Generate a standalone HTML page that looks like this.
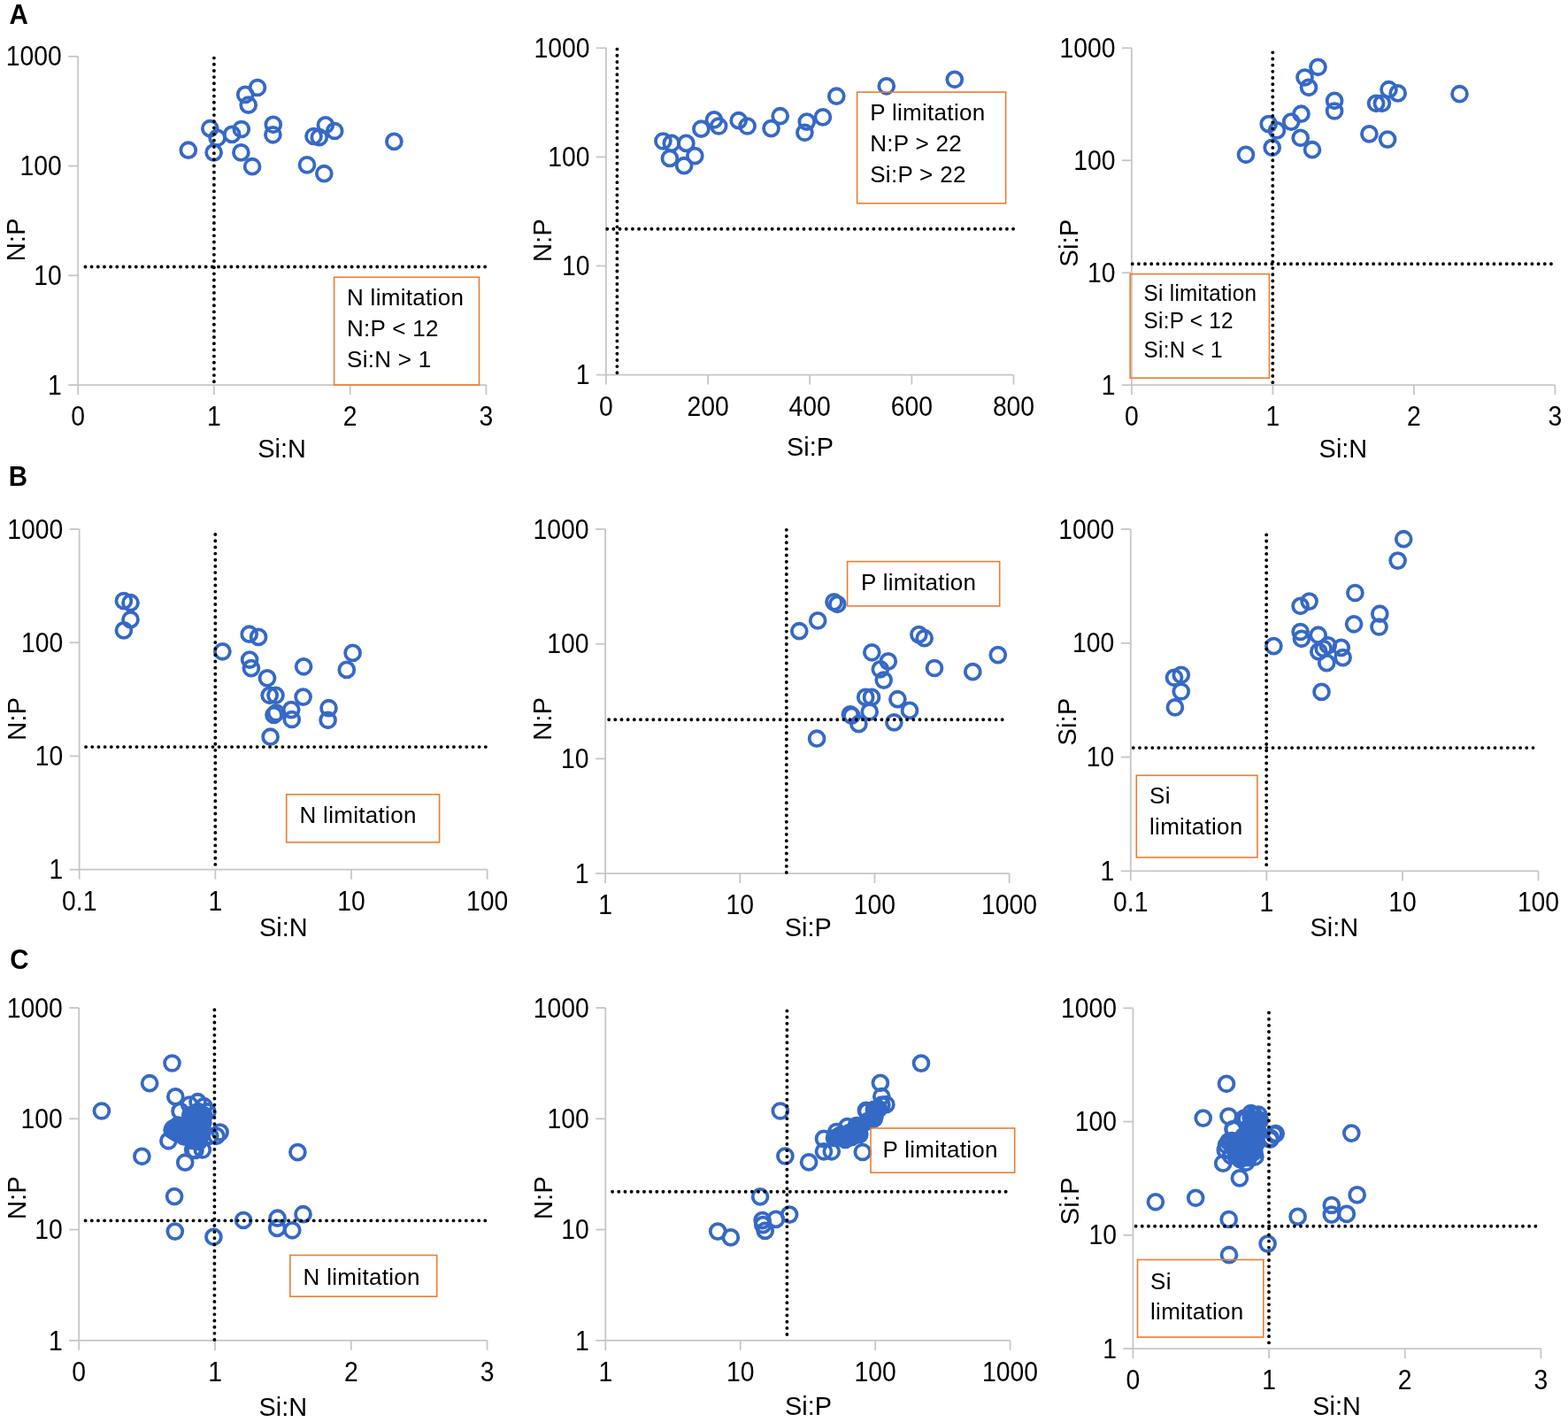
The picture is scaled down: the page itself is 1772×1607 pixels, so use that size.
<!DOCTYPE html>
<html><head><meta charset="utf-8"><title>Nutrient limitation scatter plots</title>
<style>
html,body{margin:0;padding:0;background:#fff;}
svg{display:block;}
.t{font-family:"Liberation Sans",Arial,sans-serif;font-size:29.5px;fill:#000;}
.b{font-family:"Liberation Sans",Arial,sans-serif;font-size:26px;fill:#000;letter-spacing:0.3px;}
.L{font-family:"Liberation Sans",Arial,sans-serif;font-size:29.5px;font-weight:bold;fill:#000;}
.d{stroke:#000;stroke-width:3.9;stroke-linecap:round;stroke-dasharray:0 7.17;}
</style></head><body>
<svg width="1772" height="1607" viewBox="0 0 1772 1607">
<rect width="1772" height="1607" fill="#fff"/>
<line x1="88.2" y1="63.8" x2="88.2" y2="435.1" stroke="#c6c6c6" stroke-width="1.8"/>
<line x1="88.2" y1="435.1" x2="549.4" y2="435.1" stroke="#c6c6c6" stroke-width="1.8"/>
<line x1="77.2" y1="63.8" x2="88.2" y2="63.8" stroke="#c6c6c6" stroke-width="1.8"/>
<text transform="translate(69.7,74.4) scale(0.96,1.04)" text-anchor="end" class="t">1000</text>
<line x1="77.2" y1="187.57" x2="88.2" y2="187.57" stroke="#c6c6c6" stroke-width="1.8"/>
<text transform="translate(69.7,198.17) scale(0.96,1.04)" text-anchor="end" class="t">100</text>
<line x1="77.2" y1="311.33" x2="88.2" y2="311.33" stroke="#c6c6c6" stroke-width="1.8"/>
<text transform="translate(69.7,321.93) scale(0.96,1.04)" text-anchor="end" class="t">10</text>
<line x1="77.2" y1="435.1" x2="88.2" y2="435.1" stroke="#c6c6c6" stroke-width="1.8"/>
<text transform="translate(69.7,445.7) scale(0.96,1.04)" text-anchor="end" class="t">1</text>
<line x1="88.2" y1="435.1" x2="88.2" y2="446.1" stroke="#c6c6c6" stroke-width="1.8"/>
<text transform="translate(88.2,481.1) scale(0.96,1.04)" text-anchor="middle" class="t">0</text>
<line x1="241.93" y1="435.1" x2="241.93" y2="446.1" stroke="#c6c6c6" stroke-width="1.8"/>
<text transform="translate(241.93,481.1) scale(0.96,1.04)" text-anchor="middle" class="t">1</text>
<line x1="395.67" y1="435.1" x2="395.67" y2="446.1" stroke="#c6c6c6" stroke-width="1.8"/>
<text transform="translate(395.67,481.1) scale(0.96,1.04)" text-anchor="middle" class="t">2</text>
<line x1="549.4" y1="435.1" x2="549.4" y2="446.1" stroke="#c6c6c6" stroke-width="1.8"/>
<text transform="translate(549.4,481.1) scale(0.96,1.04)" text-anchor="middle" class="t">3</text>
<text transform="translate(318.6,516.6) scale(0.98,1.03)" text-anchor="middle" class="t">Si:N</text>
<text transform="translate(27.5,271) rotate(-90) scale(1.0,1.03)" text-anchor="middle" class="t">N:P</text>
<g fill="none" stroke="#3569c6" stroke-width="3.8">
<circle cx="212.8" cy="169.7" r="8.45"/>
<circle cx="237.3" cy="145.2" r="8.45"/>
<circle cx="241.6" cy="172.4" r="8.45"/>
<circle cx="245.6" cy="155.8" r="8.45"/>
<circle cx="262.2" cy="151.9" r="8.45"/>
<circle cx="272.8" cy="146" r="8.45"/>
<circle cx="277.2" cy="106.9" r="8.45"/>
<circle cx="280.7" cy="118.7" r="8.45"/>
<circle cx="291" cy="99" r="8.45"/>
<circle cx="272.4" cy="172.4" r="8.45"/>
<circle cx="285.1" cy="188.2" r="8.45"/>
<circle cx="308.8" cy="140.8" r="8.45"/>
<circle cx="308.4" cy="152.3" r="8.45"/>
<circle cx="354.5" cy="154" r="8.45"/>
<circle cx="360.8" cy="155.2" r="8.45"/>
<circle cx="367.9" cy="141.3" r="8.45"/>
<circle cx="378.2" cy="148" r="8.45"/>
<circle cx="445.4" cy="159.9" r="8.45"/>
<circle cx="347" cy="186.4" r="8.45"/>
<circle cx="366.3" cy="196.2" r="8.45"/>
</g>
<line x1="241.9" y1="63.8" x2="241.9" y2="435.1" class="d" stroke-dashoffset="5.38"/>
<line x1="95" y1="301.5" x2="549.4" y2="301.5" class="d" stroke-dashoffset="5.73"/>
<rect x="377.6" y="313.3" width="163.9" height="121.7" fill="none" stroke="#ed7d31" stroke-width="1.6"/>
<text x="392" y="345.1" class="b">N limitation</text>
<text x="392" y="380.2" class="b">N:P &lt; 12</text>
<text x="392" y="414.7" class="b">Si:N &gt; 1</text>
<line x1="684.9" y1="54.3" x2="684.9" y2="423.6" stroke="#c6c6c6" stroke-width="1.8"/>
<line x1="684.9" y1="423.6" x2="1145.5" y2="423.6" stroke="#c6c6c6" stroke-width="1.8"/>
<line x1="673.9" y1="54.3" x2="684.9" y2="54.3" stroke="#c6c6c6" stroke-width="1.8"/>
<text transform="translate(666.4,64.9) scale(0.96,1.04)" text-anchor="end" class="t">1000</text>
<line x1="673.9" y1="177.4" x2="684.9" y2="177.4" stroke="#c6c6c6" stroke-width="1.8"/>
<text transform="translate(666.4,188) scale(0.96,1.04)" text-anchor="end" class="t">100</text>
<line x1="673.9" y1="300.5" x2="684.9" y2="300.5" stroke="#c6c6c6" stroke-width="1.8"/>
<text transform="translate(666.4,311.1) scale(0.96,1.04)" text-anchor="end" class="t">10</text>
<line x1="673.9" y1="423.6" x2="684.9" y2="423.6" stroke="#c6c6c6" stroke-width="1.8"/>
<text transform="translate(666.4,434.2) scale(0.96,1.04)" text-anchor="end" class="t">1</text>
<line x1="684.9" y1="423.6" x2="684.9" y2="434.6" stroke="#c6c6c6" stroke-width="1.8"/>
<text transform="translate(684.9,469.6) scale(0.96,1.04)" text-anchor="middle" class="t">0</text>
<line x1="800.05" y1="423.6" x2="800.05" y2="434.6" stroke="#c6c6c6" stroke-width="1.8"/>
<text transform="translate(800.05,469.6) scale(0.96,1.04)" text-anchor="middle" class="t">200</text>
<line x1="915.2" y1="423.6" x2="915.2" y2="434.6" stroke="#c6c6c6" stroke-width="1.8"/>
<text transform="translate(915.2,469.6) scale(0.96,1.04)" text-anchor="middle" class="t">400</text>
<line x1="1030.35" y1="423.6" x2="1030.35" y2="434.6" stroke="#c6c6c6" stroke-width="1.8"/>
<text transform="translate(1030.35,469.6) scale(0.96,1.04)" text-anchor="middle" class="t">600</text>
<line x1="1145.5" y1="423.6" x2="1145.5" y2="434.6" stroke="#c6c6c6" stroke-width="1.8"/>
<text transform="translate(1145.5,469.6) scale(0.96,1.04)" text-anchor="middle" class="t">800</text>
<text transform="translate(915.5,514.5) scale(0.98,1.03)" text-anchor="middle" class="t">Si:P</text>
<text transform="translate(623.1,271.6) rotate(-90) scale(1.0,1.03)" text-anchor="middle" class="t">N:P</text>
<g fill="none" stroke="#3569c6" stroke-width="3.8">
<circle cx="749.4" cy="159.5" r="8.45"/>
<circle cx="758.8" cy="161.9" r="8.45"/>
<circle cx="775.4" cy="161.9" r="8.45"/>
<circle cx="756.9" cy="178.9" r="8.45"/>
<circle cx="773.1" cy="187.2" r="8.45"/>
<circle cx="785.3" cy="176.1" r="8.45"/>
<circle cx="792.4" cy="145.7" r="8.45"/>
<circle cx="807" cy="135.4" r="8.45"/>
<circle cx="812.2" cy="142.5" r="8.45"/>
<circle cx="834.7" cy="136.2" r="8.45"/>
<circle cx="844.6" cy="142.5" r="8.45"/>
<circle cx="871.5" cy="145.1" r="8.45"/>
<circle cx="881.7" cy="131.2" r="8.45"/>
<circle cx="911.8" cy="137.6" r="8.45"/>
<circle cx="909.4" cy="149.8" r="8.45"/>
<circle cx="929.9" cy="132.4" r="8.45"/>
<circle cx="945.3" cy="108.7" r="8.45"/>
<circle cx="1001.8" cy="97.3" r="8.45"/>
<circle cx="1078.8" cy="89.8" r="8.45"/>
</g>
<line x1="697.4" y1="54.3" x2="697.4" y2="423.6" class="d" stroke-dashoffset="5.87"/>
<line x1="684.9" y1="258.7" x2="1146.8" y2="258.7" class="d" stroke-dashoffset="5.87"/>
<rect x="968.6" y="104.1" width="168" height="125.7" fill="none" stroke="#ed7d31" stroke-width="1.6"/>
<text x="983.2" y="135.9" class="b">P limitation</text>
<text x="983.2" y="170.7" class="b">N:P &gt; 22</text>
<text x="983.2" y="205.5" class="b">Si:P &gt; 22</text>
<line x1="1278.9" y1="54.3" x2="1278.9" y2="435.2" stroke="#c6c6c6" stroke-width="1.8"/>
<line x1="1278.9" y1="435.2" x2="1757.4" y2="435.2" stroke="#c6c6c6" stroke-width="1.8"/>
<line x1="1267.9" y1="54.3" x2="1278.9" y2="54.3" stroke="#c6c6c6" stroke-width="1.8"/>
<text transform="translate(1260.4,64.9) scale(0.96,1.04)" text-anchor="end" class="t">1000</text>
<line x1="1267.9" y1="181.27" x2="1278.9" y2="181.27" stroke="#c6c6c6" stroke-width="1.8"/>
<text transform="translate(1260.4,191.87) scale(0.96,1.04)" text-anchor="end" class="t">100</text>
<line x1="1267.9" y1="308.23" x2="1278.9" y2="308.23" stroke="#c6c6c6" stroke-width="1.8"/>
<text transform="translate(1260.4,318.83) scale(0.96,1.04)" text-anchor="end" class="t">10</text>
<line x1="1267.9" y1="435.2" x2="1278.9" y2="435.2" stroke="#c6c6c6" stroke-width="1.8"/>
<text transform="translate(1260.4,445.8) scale(0.96,1.04)" text-anchor="end" class="t">1</text>
<line x1="1278.9" y1="435.2" x2="1278.9" y2="446.2" stroke="#c6c6c6" stroke-width="1.8"/>
<text transform="translate(1278.9,481.2) scale(0.96,1.04)" text-anchor="middle" class="t">0</text>
<line x1="1438.4" y1="435.2" x2="1438.4" y2="446.2" stroke="#c6c6c6" stroke-width="1.8"/>
<text transform="translate(1438.4,481.2) scale(0.96,1.04)" text-anchor="middle" class="t">1</text>
<line x1="1597.9" y1="435.2" x2="1597.9" y2="446.2" stroke="#c6c6c6" stroke-width="1.8"/>
<text transform="translate(1597.9,481.2) scale(0.96,1.04)" text-anchor="middle" class="t">2</text>
<line x1="1757.4" y1="435.2" x2="1757.4" y2="446.2" stroke="#c6c6c6" stroke-width="1.8"/>
<text transform="translate(1757.4,481.2) scale(0.96,1.04)" text-anchor="middle" class="t">3</text>
<text transform="translate(1517.9,516.7) scale(0.98,1.03)" text-anchor="middle" class="t">Si:N</text>
<text transform="translate(1218.1,274.7) rotate(-90) scale(1.0,1.03)" text-anchor="middle" class="t">Si:P</text>
<g fill="none" stroke="#3569c6" stroke-width="3.8">
<circle cx="1408" cy="174.8" r="8.45"/>
<circle cx="1433.7" cy="140.1" r="8.45"/>
<circle cx="1437.7" cy="166.8" r="8.45"/>
<circle cx="1443" cy="147.4" r="8.45"/>
<circle cx="1459.2" cy="137.6" r="8.45"/>
<circle cx="1470.5" cy="128.7" r="8.45"/>
<circle cx="1474.5" cy="87.5" r="8.45"/>
<circle cx="1479" cy="98.8" r="8.45"/>
<circle cx="1489.5" cy="75.8" r="8.45"/>
<circle cx="1469.7" cy="155.8" r="8.45"/>
<circle cx="1483" cy="169.2" r="8.45"/>
<circle cx="1508.1" cy="113.8" r="8.45"/>
<circle cx="1508.1" cy="125.5" r="8.45"/>
<circle cx="1555.1" cy="116.8" r="8.45"/>
<circle cx="1561.9" cy="116.8" r="8.45"/>
<circle cx="1569.5" cy="101.2" r="8.45"/>
<circle cx="1579.7" cy="105.4" r="8.45"/>
<circle cx="1649.5" cy="106.2" r="8.45"/>
<circle cx="1547.4" cy="151.4" r="8.45"/>
<circle cx="1568.1" cy="157.6" r="8.45"/>
</g>
<line x1="1438.3" y1="58.3" x2="1438.3" y2="435.2" class="d" stroke-dashoffset="6.14"/>
<line x1="1278.6" y1="298.2" x2="1757.4" y2="298.2" class="d" stroke-dashoffset="6.06"/>
<rect x="1277.2" y="309.7" width="157.2" height="117.5" fill="none" stroke="#ed7d31" stroke-width="1.6"/>
<text transform="translate(1292.5,339.7) scale(0.935,1)" class="b">Si limitation</text>
<text transform="translate(1292.5,371.3) scale(0.935,1)" class="b">Si:P &lt; 12</text>
<text transform="translate(1292.5,403.6) scale(0.935,1)" class="b">Si:N &lt; 1</text>
<line x1="89.7" y1="598" x2="89.7" y2="982.7" stroke="#c6c6c6" stroke-width="1.8"/>
<line x1="89.7" y1="982.7" x2="550.7" y2="982.7" stroke="#c6c6c6" stroke-width="1.8"/>
<line x1="78.7" y1="598" x2="89.7" y2="598" stroke="#c6c6c6" stroke-width="1.8"/>
<text transform="translate(71.2,608.6) scale(0.96,1.04)" text-anchor="end" class="t">1000</text>
<line x1="78.7" y1="726.23" x2="89.7" y2="726.23" stroke="#c6c6c6" stroke-width="1.8"/>
<text transform="translate(71.2,736.83) scale(0.96,1.04)" text-anchor="end" class="t">100</text>
<line x1="78.7" y1="854.47" x2="89.7" y2="854.47" stroke="#c6c6c6" stroke-width="1.8"/>
<text transform="translate(71.2,865.07) scale(0.96,1.04)" text-anchor="end" class="t">10</text>
<line x1="78.7" y1="982.7" x2="89.7" y2="982.7" stroke="#c6c6c6" stroke-width="1.8"/>
<text transform="translate(71.2,993.3) scale(0.96,1.04)" text-anchor="end" class="t">1</text>
<line x1="89.7" y1="982.7" x2="89.7" y2="993.7" stroke="#c6c6c6" stroke-width="1.8"/>
<text transform="translate(89.7,1028.7) scale(0.96,1.04)" text-anchor="middle" class="t">0.1</text>
<line x1="243.37" y1="982.7" x2="243.37" y2="993.7" stroke="#c6c6c6" stroke-width="1.8"/>
<text transform="translate(243.37,1028.7) scale(0.96,1.04)" text-anchor="middle" class="t">1</text>
<line x1="397.03" y1="982.7" x2="397.03" y2="993.7" stroke="#c6c6c6" stroke-width="1.8"/>
<text transform="translate(397.03,1028.7) scale(0.96,1.04)" text-anchor="middle" class="t">10</text>
<line x1="550.7" y1="982.7" x2="550.7" y2="993.7" stroke="#c6c6c6" stroke-width="1.8"/>
<text transform="translate(550.7,1028.7) scale(0.96,1.04)" text-anchor="middle" class="t">100</text>
<text transform="translate(320.3,1057.9) scale(0.98,1.03)" text-anchor="middle" class="t">Si:N</text>
<text transform="translate(28.8,812.5) rotate(-90) scale(1.0,1.03)" text-anchor="middle" class="t">N:P</text>
<g fill="none" stroke="#3569c6" stroke-width="3.8">
<circle cx="139.9" cy="679" r="8.45"/>
<circle cx="147.5" cy="681.2" r="8.45"/>
<circle cx="147.5" cy="700.2" r="8.45"/>
<circle cx="139.9" cy="712.4" r="8.45"/>
<circle cx="251.4" cy="736.3" r="8.45"/>
<circle cx="281.7" cy="716.7" r="8.45"/>
<circle cx="292.1" cy="719.9" r="8.45"/>
<circle cx="282.1" cy="745.6" r="8.45"/>
<circle cx="283.9" cy="755.1" r="8.45"/>
<circle cx="302" cy="766.4" r="8.45"/>
<circle cx="304.7" cy="785.8" r="8.45"/>
<circle cx="311.5" cy="785.8" r="8.45"/>
<circle cx="312" cy="805.5" r="8.45"/>
<circle cx="309.5" cy="808" r="8.45"/>
<circle cx="329.2" cy="802.1" r="8.45"/>
<circle cx="329.8" cy="813" r="8.45"/>
<circle cx="343.1" cy="753.3" r="8.45"/>
<circle cx="342.6" cy="787.6" r="8.45"/>
<circle cx="371.5" cy="800.2" r="8.45"/>
<circle cx="370.6" cy="813.8" r="8.45"/>
<circle cx="398.6" cy="737.9" r="8.45"/>
<circle cx="391.8" cy="756.9" r="8.45"/>
<circle cx="305.6" cy="832.7" r="8.45"/>
</g>
<line x1="243.3" y1="602.1" x2="243.3" y2="982.7" class="d" stroke-dashoffset="5.2"/>
<line x1="95.8" y1="844.1" x2="551" y2="844.1" class="d" stroke-dashoffset="5.87"/>
<rect x="323.7" y="897.8" width="172.9" height="54.1" fill="none" stroke="#ed7d31" stroke-width="1.6"/>
<text x="338.5" y="929.6" class="b">N limitation</text>
<line x1="684.1" y1="598" x2="684.1" y2="987.1" stroke="#c6c6c6" stroke-width="1.8"/>
<line x1="684.1" y1="987.1" x2="1140.6" y2="987.1" stroke="#c6c6c6" stroke-width="1.8"/>
<line x1="673.1" y1="598" x2="684.1" y2="598" stroke="#c6c6c6" stroke-width="1.8"/>
<text transform="translate(665.6,608.6) scale(0.96,1.04)" text-anchor="end" class="t">1000</text>
<line x1="673.1" y1="727.7" x2="684.1" y2="727.7" stroke="#c6c6c6" stroke-width="1.8"/>
<text transform="translate(665.6,738.3) scale(0.96,1.04)" text-anchor="end" class="t">100</text>
<line x1="673.1" y1="857.4" x2="684.1" y2="857.4" stroke="#c6c6c6" stroke-width="1.8"/>
<text transform="translate(665.6,868) scale(0.96,1.04)" text-anchor="end" class="t">10</text>
<line x1="673.1" y1="987.1" x2="684.1" y2="987.1" stroke="#c6c6c6" stroke-width="1.8"/>
<text transform="translate(665.6,997.7) scale(0.96,1.04)" text-anchor="end" class="t">1</text>
<line x1="684.1" y1="987.1" x2="684.1" y2="998.1" stroke="#c6c6c6" stroke-width="1.8"/>
<text transform="translate(684.1,1033.1) scale(0.96,1.04)" text-anchor="middle" class="t">1</text>
<line x1="836.27" y1="987.1" x2="836.27" y2="998.1" stroke="#c6c6c6" stroke-width="1.8"/>
<text transform="translate(836.27,1033.1) scale(0.96,1.04)" text-anchor="middle" class="t">10</text>
<line x1="988.43" y1="987.1" x2="988.43" y2="998.1" stroke="#c6c6c6" stroke-width="1.8"/>
<text transform="translate(988.43,1033.1) scale(0.96,1.04)" text-anchor="middle" class="t">100</text>
<line x1="1140.6" y1="987.1" x2="1140.6" y2="998.1" stroke="#c6c6c6" stroke-width="1.8"/>
<text transform="translate(1140.6,1033.1) scale(0.96,1.04)" text-anchor="middle" class="t">1000</text>
<text transform="translate(913.2,1057.8) scale(0.98,1.03)" text-anchor="middle" class="t">Si:P</text>
<text transform="translate(623.1,812.4) rotate(-90) scale(1.0,1.03)" text-anchor="middle" class="t">N:P</text>
<g fill="none" stroke="#3569c6" stroke-width="3.8">
<circle cx="903.3" cy="713.2" r="8.45"/>
<circle cx="924.2" cy="701.4" r="8.45"/>
<circle cx="942.5" cy="680.4" r="8.45"/>
<circle cx="946.3" cy="682.8" r="8.45"/>
<circle cx="985.3" cy="737.3" r="8.45"/>
<circle cx="1003.8" cy="747.4" r="8.45"/>
<circle cx="994.8" cy="756.3" r="8.45"/>
<circle cx="998.7" cy="768.6" r="8.45"/>
<circle cx="978.2" cy="787.9" r="8.45"/>
<circle cx="985" cy="787.9" r="8.45"/>
<circle cx="982.7" cy="804.4" r="8.45"/>
<circle cx="960.9" cy="807.3" r="8.45"/>
<circle cx="962.4" cy="808.8" r="8.45"/>
<circle cx="970.4" cy="818.2" r="8.45"/>
<circle cx="1014.4" cy="790.2" r="8.45"/>
<circle cx="1010.4" cy="816.4" r="8.45"/>
<circle cx="923.1" cy="834.7" r="8.45"/>
<circle cx="1038.4" cy="717.1" r="8.45"/>
<circle cx="1044.7" cy="721.2" r="8.45"/>
<circle cx="1056" cy="755" r="8.45"/>
<circle cx="1099.3" cy="759.1" r="8.45"/>
<circle cx="1127.8" cy="740.1" r="8.45"/>
<circle cx="1028" cy="802.9" r="8.45"/>
</g>
<line x1="888.8" y1="598" x2="888.8" y2="987.1" class="d" stroke-dashoffset="6.3"/>
<line x1="687.5" y1="813.2" x2="1139.3" y2="813.2" class="d" stroke-dashoffset="6.54"/>
<rect x="957.6" y="634.6" width="172.1" height="50.3" fill="none" stroke="#ed7d31" stroke-width="1.6"/>
<text x="973" y="667.2" class="b">P limitation</text>
<line x1="1277.8" y1="598" x2="1277.8" y2="984.4" stroke="#c6c6c6" stroke-width="1.8"/>
<line x1="1277.8" y1="984.4" x2="1738.5" y2="984.4" stroke="#c6c6c6" stroke-width="1.8"/>
<line x1="1266.8" y1="598" x2="1277.8" y2="598" stroke="#c6c6c6" stroke-width="1.8"/>
<text transform="translate(1259.3,608.6) scale(0.96,1.04)" text-anchor="end" class="t">1000</text>
<line x1="1266.8" y1="726.8" x2="1277.8" y2="726.8" stroke="#c6c6c6" stroke-width="1.8"/>
<text transform="translate(1259.3,737.4) scale(0.96,1.04)" text-anchor="end" class="t">100</text>
<line x1="1266.8" y1="855.6" x2="1277.8" y2="855.6" stroke="#c6c6c6" stroke-width="1.8"/>
<text transform="translate(1259.3,866.2) scale(0.96,1.04)" text-anchor="end" class="t">10</text>
<line x1="1266.8" y1="984.4" x2="1277.8" y2="984.4" stroke="#c6c6c6" stroke-width="1.8"/>
<text transform="translate(1259.3,995) scale(0.96,1.04)" text-anchor="end" class="t">1</text>
<line x1="1277.8" y1="984.4" x2="1277.8" y2="995.4" stroke="#c6c6c6" stroke-width="1.8"/>
<text transform="translate(1277.8,1030.4) scale(0.96,1.04)" text-anchor="middle" class="t">0.1</text>
<line x1="1431.37" y1="984.4" x2="1431.37" y2="995.4" stroke="#c6c6c6" stroke-width="1.8"/>
<text transform="translate(1431.37,1030.4) scale(0.96,1.04)" text-anchor="middle" class="t">1</text>
<line x1="1584.93" y1="984.4" x2="1584.93" y2="995.4" stroke="#c6c6c6" stroke-width="1.8"/>
<text transform="translate(1584.93,1030.4) scale(0.96,1.04)" text-anchor="middle" class="t">10</text>
<line x1="1738.5" y1="984.4" x2="1738.5" y2="995.4" stroke="#c6c6c6" stroke-width="1.8"/>
<text transform="translate(1738.5,1030.4) scale(0.96,1.04)" text-anchor="middle" class="t">100</text>
<text transform="translate(1507.8,1057.8) scale(0.98,1.03)" text-anchor="middle" class="t">Si:N</text>
<text transform="translate(1216.4,815.6) rotate(-90) scale(1.0,1.03)" text-anchor="middle" class="t">Si:P</text>
<g fill="none" stroke="#3569c6" stroke-width="3.8">
<circle cx="1327" cy="765.8" r="8.45"/>
<circle cx="1334.8" cy="762.8" r="8.45"/>
<circle cx="1334.8" cy="781.5" r="8.45"/>
<circle cx="1327.9" cy="799.4" r="8.45"/>
<circle cx="1439.4" cy="730.1" r="8.45"/>
<circle cx="1489.7" cy="717.7" r="8.45"/>
<circle cx="1500.8" cy="729.3" r="8.45"/>
<circle cx="1490.3" cy="736.4" r="8.45"/>
<circle cx="1495.7" cy="733" r="8.45"/>
<circle cx="1499.3" cy="749.1" r="8.45"/>
<circle cx="1515.7" cy="731.9" r="8.45"/>
<circle cx="1517.6" cy="743.1" r="8.45"/>
<circle cx="1469.6" cy="684.8" r="8.45"/>
<circle cx="1479.6" cy="679.6" r="8.45"/>
<circle cx="1469.6" cy="714" r="8.45"/>
<circle cx="1470.9" cy="721.8" r="8.45"/>
<circle cx="1531.4" cy="670" r="8.45"/>
<circle cx="1530.1" cy="705.3" r="8.45"/>
<circle cx="1493.5" cy="781.9" r="8.45"/>
<circle cx="1586.2" cy="609.2" r="8.45"/>
<circle cx="1579.6" cy="633.6" r="8.45"/>
<circle cx="1559.3" cy="693.7" r="8.45"/>
<circle cx="1558.5" cy="708.5" r="8.45"/>
</g>
<line x1="1431.2" y1="602.8" x2="1431.2" y2="984.4" class="d" stroke-dashoffset="5.57"/>
<line x1="1279.5" y1="845.1" x2="1738.1" y2="845.1" class="d" stroke-dashoffset="5.87"/>
<rect x="1284.3" y="876.3" width="136.6" height="92.7" fill="none" stroke="#ed7d31" stroke-width="1.6"/>
<text x="1299" y="908.4" class="b">Si</text>
<text x="1299" y="942.7" class="b">limitation</text>
<line x1="89.2" y1="1139" x2="89.2" y2="1514.9" stroke="#c6c6c6" stroke-width="1.8"/>
<line x1="89.2" y1="1514.9" x2="550.6" y2="1514.9" stroke="#c6c6c6" stroke-width="1.8"/>
<line x1="78.2" y1="1139" x2="89.2" y2="1139" stroke="#c6c6c6" stroke-width="1.8"/>
<text transform="translate(70.7,1149.6) scale(0.96,1.04)" text-anchor="end" class="t">1000</text>
<line x1="78.2" y1="1264.3" x2="89.2" y2="1264.3" stroke="#c6c6c6" stroke-width="1.8"/>
<text transform="translate(70.7,1274.9) scale(0.96,1.04)" text-anchor="end" class="t">100</text>
<line x1="78.2" y1="1389.6" x2="89.2" y2="1389.6" stroke="#c6c6c6" stroke-width="1.8"/>
<text transform="translate(70.7,1400.2) scale(0.96,1.04)" text-anchor="end" class="t">10</text>
<line x1="78.2" y1="1514.9" x2="89.2" y2="1514.9" stroke="#c6c6c6" stroke-width="1.8"/>
<text transform="translate(70.7,1525.5) scale(0.96,1.04)" text-anchor="end" class="t">1</text>
<line x1="89.2" y1="1514.9" x2="89.2" y2="1525.9" stroke="#c6c6c6" stroke-width="1.8"/>
<text transform="translate(89.2,1560.9) scale(0.96,1.04)" text-anchor="middle" class="t">0</text>
<line x1="243" y1="1514.9" x2="243" y2="1525.9" stroke="#c6c6c6" stroke-width="1.8"/>
<text transform="translate(243,1560.9) scale(0.96,1.04)" text-anchor="middle" class="t">1</text>
<line x1="396.8" y1="1514.9" x2="396.8" y2="1525.9" stroke="#c6c6c6" stroke-width="1.8"/>
<text transform="translate(396.8,1560.9) scale(0.96,1.04)" text-anchor="middle" class="t">2</text>
<line x1="550.6" y1="1514.9" x2="550.6" y2="1525.9" stroke="#c6c6c6" stroke-width="1.8"/>
<text transform="translate(550.6,1560.9) scale(0.96,1.04)" text-anchor="middle" class="t">3</text>
<text transform="translate(319.8,1599.6) scale(0.98,1.03)" text-anchor="middle" class="t">Si:N</text>
<text transform="translate(29,1353.7) rotate(-90) scale(1.0,1.03)" text-anchor="middle" class="t">N:P</text>
<g fill="none" stroke="#3569c6" stroke-width="3.8">
<circle cx="114.9" cy="1255.5" r="8.45"/>
<circle cx="169.1" cy="1224.2" r="8.45"/>
<circle cx="194.5" cy="1201.5" r="8.45"/>
<circle cx="198.3" cy="1239.4" r="8.45"/>
<circle cx="160.4" cy="1306.8" r="8.45"/>
<circle cx="203.5" cy="1255.8" r="8.45"/>
<circle cx="190.4" cy="1289.3" r="8.45"/>
<circle cx="209.2" cy="1313.7" r="8.45"/>
<circle cx="197.1" cy="1352.1" r="8.45"/>
<circle cx="197.8" cy="1391.6" r="8.45"/>
<circle cx="241.4" cy="1397.8" r="8.45"/>
<circle cx="275.1" cy="1379" r="8.45"/>
<circle cx="313.6" cy="1376.7" r="8.45"/>
<circle cx="313.2" cy="1387.9" r="8.45"/>
<circle cx="330.3" cy="1390.3" r="8.45"/>
<circle cx="342.5" cy="1372.2" r="8.45"/>
<circle cx="336.4" cy="1302.1" r="8.45"/>
<circle cx="248.6" cy="1279.6" r="8.45"/>
<circle cx="244.5" cy="1283.8" r="8.45"/>
<circle cx="214.2" cy="1248.5" r="8.45"/>
<circle cx="223.5" cy="1245.2" r="8.45"/>
<circle cx="230.5" cy="1250.2" r="8.45"/>
<circle cx="234.4" cy="1256.4" r="8.45"/>
<circle cx="237.2" cy="1283.8" r="8.45"/>
<circle cx="194.6" cy="1277.1" r="8.45"/>
<circle cx="201.4" cy="1271.5" r="8.45"/>
<circle cx="220.4" cy="1300" r="8.45"/>
<circle cx="228.8" cy="1299.5" r="8.45"/>
<circle cx="218.2" cy="1299.5" r="8.45"/>
</g>
<g fill="#3569c6">
<circle cx="215.3" cy="1260" r="10.35"/>
<circle cx="223.7" cy="1256" r="10.35"/>
<circle cx="230" cy="1260" r="10.35"/>
<circle cx="229.3" cy="1268.6" r="10.35"/>
<circle cx="227.4" cy="1282.6" r="10.35"/>
<circle cx="224.6" cy="1290" r="10.35"/>
<circle cx="217.2" cy="1289" r="10.35"/>
<circle cx="207.9" cy="1284.5" r="10.35"/>
<circle cx="199" cy="1280" r="10.35"/>
<circle cx="196" cy="1275" r="10.35"/>
<circle cx="202.3" cy="1272.4" r="10.35"/>
<circle cx="215.3" cy="1268.6" r="10.35"/>
<circle cx="215.3" cy="1280.8" r="10.35"/>
</g>
<line x1="242.4" y1="1140" x2="242.4" y2="1514.9" class="d" stroke-dashoffset="5.99"/>
<line x1="95.3" y1="1379.4" x2="549.9" y2="1379.4" class="d" stroke-dashoffset="5.87"/>
<rect x="327.9" y="1418.5" width="165.8" height="46.7" fill="none" stroke="#ed7d31" stroke-width="1.6"/>
<text x="342.6" y="1451.6" class="b">N limitation</text>
<line x1="684.3" y1="1139" x2="684.3" y2="1514.9" stroke="#c6c6c6" stroke-width="1.8"/>
<line x1="684.3" y1="1514.9" x2="1141.6" y2="1514.9" stroke="#c6c6c6" stroke-width="1.8"/>
<line x1="673.3" y1="1139" x2="684.3" y2="1139" stroke="#c6c6c6" stroke-width="1.8"/>
<text transform="translate(665.8,1149.6) scale(0.96,1.04)" text-anchor="end" class="t">1000</text>
<line x1="673.3" y1="1264.3" x2="684.3" y2="1264.3" stroke="#c6c6c6" stroke-width="1.8"/>
<text transform="translate(665.8,1274.9) scale(0.96,1.04)" text-anchor="end" class="t">100</text>
<line x1="673.3" y1="1389.6" x2="684.3" y2="1389.6" stroke="#c6c6c6" stroke-width="1.8"/>
<text transform="translate(665.8,1400.2) scale(0.96,1.04)" text-anchor="end" class="t">10</text>
<line x1="673.3" y1="1514.9" x2="684.3" y2="1514.9" stroke="#c6c6c6" stroke-width="1.8"/>
<text transform="translate(665.8,1525.5) scale(0.96,1.04)" text-anchor="end" class="t">1</text>
<line x1="684.3" y1="1514.9" x2="684.3" y2="1525.9" stroke="#c6c6c6" stroke-width="1.8"/>
<text transform="translate(684.3,1560.9) scale(0.96,1.04)" text-anchor="middle" class="t">1</text>
<line x1="836.73" y1="1514.9" x2="836.73" y2="1525.9" stroke="#c6c6c6" stroke-width="1.8"/>
<text transform="translate(836.73,1560.9) scale(0.96,1.04)" text-anchor="middle" class="t">10</text>
<line x1="989.17" y1="1514.9" x2="989.17" y2="1525.9" stroke="#c6c6c6" stroke-width="1.8"/>
<text transform="translate(989.17,1560.9) scale(0.96,1.04)" text-anchor="middle" class="t">100</text>
<line x1="1141.6" y1="1514.9" x2="1141.6" y2="1525.9" stroke="#c6c6c6" stroke-width="1.8"/>
<text transform="translate(1141.6,1560.9) scale(0.96,1.04)" text-anchor="middle" class="t">1000</text>
<text transform="translate(913.5,1599.4) scale(0.98,1.03)" text-anchor="middle" class="t">Si:P</text>
<text transform="translate(624.2,1353.7) rotate(-90) scale(1.0,1.03)" text-anchor="middle" class="t">N:P</text>
<g fill="none" stroke="#3569c6" stroke-width="3.8">
<circle cx="811.2" cy="1391.6" r="8.45"/>
<circle cx="825.8" cy="1398.4" r="8.45"/>
<circle cx="859.1" cy="1352.4" r="8.45"/>
<circle cx="861.6" cy="1379.1" r="8.45"/>
<circle cx="862.2" cy="1384.1" r="8.45"/>
<circle cx="864.7" cy="1390.9" r="8.45"/>
<circle cx="876.8" cy="1377.9" r="8.45"/>
<circle cx="892.1" cy="1372.6" r="8.45"/>
<circle cx="881.8" cy="1255.5" r="8.45"/>
<circle cx="887.4" cy="1306.5" r="8.45"/>
<circle cx="914.1" cy="1313.4" r="8.45"/>
<circle cx="1041" cy="1201.6" r="8.45"/>
<circle cx="994.9" cy="1223.8" r="8.45"/>
<circle cx="996.3" cy="1239.2" r="8.45"/>
<circle cx="1001.4" cy="1248.2" r="8.45"/>
<circle cx="996.3" cy="1248.7" r="8.45"/>
<circle cx="988.5" cy="1261.6" r="8.45"/>
<circle cx="979.8" cy="1256" r="8.45"/>
<circle cx="987.9" cy="1253.8" r="8.45"/>
<circle cx="978.9" cy="1254.8" r="8.45"/>
<circle cx="987.8" cy="1264.3" r="8.45"/>
<circle cx="974.8" cy="1302" r="8.45"/>
<circle cx="931" cy="1286.9" r="8.45"/>
<circle cx="931" cy="1301.3" r="8.45"/>
<circle cx="939.8" cy="1301.3" r="8.45"/>
<circle cx="945.3" cy="1279" r="8.45"/>
<circle cx="957.6" cy="1273" r="8.45"/>
<circle cx="958.3" cy="1285.6" r="8.45"/>
<circle cx="971.3" cy="1282.1" r="8.45"/>
<circle cx="967.9" cy="1272" r="8.45"/>
</g>
<g fill="#3569c6">
<circle cx="943" cy="1286" r="10.35"/>
<circle cx="949" cy="1283" r="10.35"/>
<circle cx="952.1" cy="1283" r="10.35"/>
<circle cx="960.2" cy="1280" r="10.35"/>
<circle cx="968.3" cy="1277" r="10.35"/>
<circle cx="973.1" cy="1272" r="10.35"/>
<circle cx="980.4" cy="1267" r="10.35"/>
<circle cx="962.6" cy="1285" r="10.35"/>
<circle cx="955.3" cy="1288" r="10.35"/>
<circle cx="969.9" cy="1281.4" r="10.35"/>
<circle cx="993" cy="1253" r="10.35"/>
<circle cx="988" cy="1258" r="10.35"/>
</g>
<line x1="889.4" y1="1140" x2="889.4" y2="1514.9" class="d" stroke-dashoffset="4.78"/>
<line x1="685.3" y1="1346.8" x2="1141.6" y2="1346.8" class="d" stroke-dashoffset="0.35"/>
<rect x="984" y="1275" width="162.7" height="50.2" fill="none" stroke="#ed7d31" stroke-width="1.6"/>
<text x="997.5" y="1307.5" class="b">P limitation</text>
<line x1="1280.4" y1="1139.3" x2="1280.4" y2="1524.1" stroke="#c6c6c6" stroke-width="1.8"/>
<line x1="1280.4" y1="1524.1" x2="1741.4" y2="1524.1" stroke="#c6c6c6" stroke-width="1.8"/>
<line x1="1269.4" y1="1139.3" x2="1280.4" y2="1139.3" stroke="#c6c6c6" stroke-width="1.8"/>
<text transform="translate(1261.9,1149.9) scale(0.96,1.04)" text-anchor="end" class="t">1000</text>
<line x1="1269.4" y1="1267.57" x2="1280.4" y2="1267.57" stroke="#c6c6c6" stroke-width="1.8"/>
<text transform="translate(1261.9,1278.17) scale(0.96,1.04)" text-anchor="end" class="t">100</text>
<line x1="1269.4" y1="1395.83" x2="1280.4" y2="1395.83" stroke="#c6c6c6" stroke-width="1.8"/>
<text transform="translate(1261.9,1406.43) scale(0.96,1.04)" text-anchor="end" class="t">10</text>
<line x1="1269.4" y1="1524.1" x2="1280.4" y2="1524.1" stroke="#c6c6c6" stroke-width="1.8"/>
<text transform="translate(1261.9,1534.7) scale(0.96,1.04)" text-anchor="end" class="t">1</text>
<line x1="1280.4" y1="1524.1" x2="1280.4" y2="1535.1" stroke="#c6c6c6" stroke-width="1.8"/>
<text transform="translate(1280.4,1570.1) scale(0.96,1.04)" text-anchor="middle" class="t">0</text>
<line x1="1434.07" y1="1524.1" x2="1434.07" y2="1535.1" stroke="#c6c6c6" stroke-width="1.8"/>
<text transform="translate(1434.07,1570.1) scale(0.96,1.04)" text-anchor="middle" class="t">1</text>
<line x1="1587.73" y1="1524.1" x2="1587.73" y2="1535.1" stroke="#c6c6c6" stroke-width="1.8"/>
<text transform="translate(1587.73,1570.1) scale(0.96,1.04)" text-anchor="middle" class="t">2</text>
<line x1="1741.4" y1="1524.1" x2="1741.4" y2="1535.1" stroke="#c6c6c6" stroke-width="1.8"/>
<text transform="translate(1741.4,1570.1) scale(0.96,1.04)" text-anchor="middle" class="t">3</text>
<text transform="translate(1510.6,1599.4) scale(0.98,1.03)" text-anchor="middle" class="t">Si:N</text>
<text transform="translate(1219,1357.4) rotate(-90) scale(1.0,1.03)" text-anchor="middle" class="t">Si:P</text>
<g fill="none" stroke="#3569c6" stroke-width="3.8">
<circle cx="1386" cy="1224.8" r="8.45"/>
<circle cx="1359.7" cy="1263.6" r="8.45"/>
<circle cx="1388.5" cy="1261.5" r="8.45"/>
<circle cx="1439.7" cy="1282" r="8.45"/>
<circle cx="1527.3" cy="1280.6" r="8.45"/>
<circle cx="1305.9" cy="1358.3" r="8.45"/>
<circle cx="1351.2" cy="1353.8" r="8.45"/>
<circle cx="1400.9" cy="1331.4" r="8.45"/>
<circle cx="1382.2" cy="1314.7" r="8.45"/>
<circle cx="1388.7" cy="1378" r="8.45"/>
<circle cx="1432.6" cy="1405.6" r="8.45"/>
<circle cx="1389" cy="1418.2" r="8.45"/>
<circle cx="1466.6" cy="1374.9" r="8.45"/>
<circle cx="1504.8" cy="1362" r="8.45"/>
<circle cx="1504.8" cy="1372.6" r="8.45"/>
<circle cx="1521.8" cy="1371.9" r="8.45"/>
<circle cx="1533.7" cy="1350.4" r="8.45"/>
<circle cx="1393.5" cy="1276.1" r="8.45"/>
<circle cx="1405.8" cy="1263.8" r="8.45"/>
<circle cx="1413.7" cy="1258" r="8.45"/>
<circle cx="1422.1" cy="1259.5" r="8.45"/>
<circle cx="1423.8" cy="1266" r="8.45"/>
<circle cx="1441.7" cy="1281.1" r="8.45"/>
<circle cx="1436.1" cy="1286.2" r="8.45"/>
<circle cx="1388.5" cy="1290.1" r="8.45"/>
<circle cx="1394.1" cy="1276.5" r="8.45"/>
<circle cx="1408.6" cy="1264.4" r="8.45"/>
<circle cx="1417" cy="1260" r="8.45"/>
<circle cx="1435.2" cy="1287.7" r="8.45"/>
<circle cx="1408.1" cy="1313.8" r="8.45"/>
<circle cx="1418.4" cy="1307.3" r="8.45"/>
<circle cx="1384.8" cy="1299.8" r="8.45"/>
<circle cx="1386" cy="1294" r="8.45"/>
<circle cx="1392" cy="1289" r="8.45"/>
<circle cx="1391" cy="1306" r="8.45"/>
</g>
<g fill="#3569c6">
<circle cx="1413.7" cy="1263.5" r="10.35"/>
<circle cx="1421.2" cy="1267.2" r="10.35"/>
<circle cx="1422.1" cy="1279.3" r="10.35"/>
<circle cx="1420.2" cy="1291.4" r="10.35"/>
<circle cx="1417.4" cy="1301.7" r="10.35"/>
<circle cx="1410.9" cy="1308.2" r="10.35"/>
<circle cx="1401.6" cy="1310.1" r="10.35"/>
<circle cx="1397" cy="1304" r="10.35"/>
<circle cx="1395.1" cy="1291.4" r="10.35"/>
<circle cx="1405.3" cy="1284" r="10.35"/>
<circle cx="1410.9" cy="1274.6" r="10.35"/>
<circle cx="1405.3" cy="1298" r="10.35"/>
<circle cx="1414.6" cy="1293.3" r="10.35"/>
</g>
<line x1="1434" y1="1143.4" x2="1434" y2="1524.1" class="d" stroke-dashoffset="6.03"/>
<line x1="1280.7" y1="1385.8" x2="1741.4" y2="1385.8" class="d" stroke-dashoffset="4.27"/>
<rect x="1285.5" y="1423.6" width="142.3" height="87.5" fill="none" stroke="#ed7d31" stroke-width="1.6"/>
<text x="1300" y="1456.7" class="b">Si</text>
<text x="1300" y="1490.7" class="b">limitation</text>
<text transform="translate(10.5,27.1) scale(1,1.06)" class="L">A</text>
<text transform="translate(9.8,549.1) scale(1,1.06)" class="L">B</text>
<text transform="translate(11.2,1094.6) scale(1,1.06)" class="L">C</text>
</svg>
</body></html>
